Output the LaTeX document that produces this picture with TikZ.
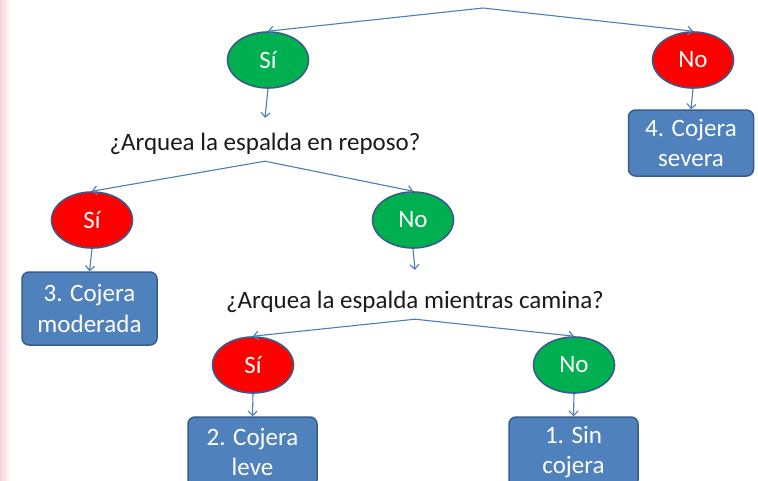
\documentclass[tikz,border=0pt]{standalone}
\usepackage{fontspec}
\setmainfont{Carlito}
\usetikzlibrary{shapes.geometric,arrows.meta}
\definecolor{sigreen}{HTML}{00B050}
\definecolor{nored}{HTML}{FF0000}
\definecolor{boxblue}{HTML}{4F81BD}
\definecolor{boxedge}{HTML}{385D8A}
\definecolor{linkblue}{HTML}{4A7EBB}
\definecolor{stripe}{HTML}{F6D3D8}
\definecolor{ink}{HTML}{1A1A1A}
\begin{document}
\begin{tikzpicture}
  [x=1pt,y=-1pt,every node/.style={font=\fontsize{25}{30.5}\selectfont},
   answer/.style={ellipse,draw=boxedge,line width=1.6pt,minimum width=81pt,minimum height=56pt,text=white,inner sep=0pt},
   result/.style={rounded corners=7pt,fill=boxblue,draw=boxedge,line width=1.5pt,text=white,align=center,inner sep=0pt},
   question/.style={anchor=base,text=ink,text depth=6pt,inner ysep=5pt,inner xsep=0pt},
   link/.style={linkblue,line width=1.1pt,-{Straight Barb[length=4.5pt,width=9pt]}}]
\useasboundingbox (0,0) rectangle (758,480);
\fill[white] (0,0) rectangle (758,480);
\shade[left color=stripe,right color=white] (0,0) rectangle (11,480);
\coordinate (top) at (483,8);
  \node (s1)[answer,fill=sigreen] at (268,60) {Sí};
  \node (n1)[answer,fill=nored] at (693,60) {No};
  \node (q1)[question,text height=27pt] at (265,150) {¿Arquea la espalda en reposo?};
  \node (r4)[result,minimum width=125pt,minimum height=66pt] at (691,143) {4. Cojera\\severa};
  \node (s2)[answer,fill=nored] at (92,220) {Sí};
  \node (n2)[answer,fill=sigreen] at (413,220) {No};
  \node (r3)[result,minimum width=135pt,minimum height=73pt] at (89.5,308.5) {3. Cojera\\moderada};
  \node (q2)[question,text height=33pt] at (415,308) {¿Arquea la espalda mientras camina?};
  \node (s3)[answer,fill=nored] at (253,365) {Sí};
  \node (n3)[answer,fill=sigreen] at (574,365) {No};
  \node (r2)[result,minimum width=129pt,minimum height=70pt] at (252.5,452) {2. Cojera\\leve};
  \node (r1)[result,minimum width=129pt,minimum height=70pt] at (573.5,452) {1. Sin\\cojera};
 \foreach \from/\to in {top/s1.north,top/n1.north,q1.south/s2.north,q1.south/n2.north,q2.south/s3.north,q2.south/n3.north}
    \draw[link] (\from) -- (\to);
 \foreach \from/\to in {s1/q1,n1/r4,s2/r3,n2/q2,s3/r2,n3/r1}
    \draw[link] (\from.south) -- (\to.north);
\end{tikzpicture}
\end{document}
